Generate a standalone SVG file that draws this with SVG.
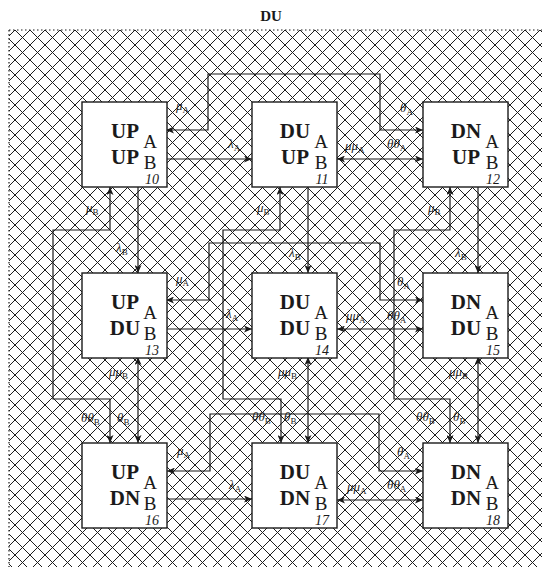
<svg xmlns="http://www.w3.org/2000/svg" width="542" height="567" viewBox="0 0 542 567">
<style>
.box{fill:#fff;stroke:#1a1a1a;stroke-width:1.4}
.st{font-family:"Liberation Serif",serif;font-weight:bold;font-size:21px;fill:#1a1a1a;text-anchor:middle}
.ab{font-family:"Liberation Serif",serif;font-size:19px;fill:#1a1a1a;text-anchor:middle}
.no{font-family:"Liberation Serif",serif;font-style:italic;font-size:14px;fill:#1a1a1a;text-anchor:middle}
.cn{fill:none;stroke:#1a1a1a;stroke-width:1.2}
.lb{font-family:"Liberation Serif",serif;font-style:italic;font-size:13px;fill:#1a1a1a}
.sb{font-size:9px;font-style:normal}
.ttl{font-family:"Liberation Serif",serif;font-weight:bold;font-size:15px;fill:#1a1a1a;text-anchor:middle}
</style>
<defs>
<pattern id="hatch" width="15" height="15" patternUnits="userSpaceOnUse">
<path d="M-1,-1 L16,16 M16,-1 L-1,16" stroke="#1e1e1e" stroke-width="1" fill="none"/>
</pattern>
<marker id="ar" viewBox="0 0 8 7" refX="8" refY="3.5" markerWidth="8" markerHeight="7" markerUnits="userSpaceOnUse" orient="auto-start-reverse">
<path d="M0,0 L8,3.5 L0,7 L2,3.5 z" fill="#1a1a1a"/>
</marker>
</defs>
<rect x="0" y="0" width="542" height="567" fill="#fff"/>
<text class="ttl" x="271" y="21">DU</text>
<rect x="9" y="30" width="533" height="537" fill="url(#hatch)"/>
<path d="M9,30 H542 M9,30 V567" stroke="#1a1a1a" stroke-width="1.2" stroke-dasharray="1.5,2.5" fill="none"/>

<g id="connectors">
<path class="cn" d="M166,159 H252" marker-end="url(#ar)"/>
<path class="cn" d="M337,159 H423" marker-start="url(#ar)" marker-end="url(#ar)"/>
<path class="cn" d="M423,130 H380 V74 H208 V130 H166" marker-start="url(#ar)" marker-end="url(#ar)"/>
<path class="cn" d="M166,329 H252" marker-end="url(#ar)"/>
<path class="cn" d="M337,329 H423" marker-start="url(#ar)" marker-end="url(#ar)"/>
<path class="cn" d="M423,300 H380 V243 H209 V300 H166" marker-start="url(#ar)" marker-end="url(#ar)"/>
<path class="cn" d="M167,499 H252" marker-end="url(#ar)"/>
<path class="cn" d="M337,500 H423" marker-start="url(#ar)" marker-end="url(#ar)"/>
<path class="cn" d="M423,471 H379 V414 H210 V471 H167" marker-start="url(#ar)" marker-end="url(#ar)"/>
<path class="cn" d="M138,187 V273" marker-end="url(#ar)"/>
<path class="cn" d="M138,357 V443" marker-start="url(#ar)" marker-end="url(#ar)"/>
<path class="cn" d="M110,187 V230 H53 V399 H110 V443" marker-start="url(#ar)" marker-end="url(#ar)"/>
<path class="cn" d="M308,187 V273" marker-end="url(#ar)"/>
<path class="cn" d="M308,357 V443" marker-start="url(#ar)" marker-end="url(#ar)"/>
<path class="cn" d="M280,187 V230 H223 V399 H281 V443" marker-start="url(#ar)" marker-end="url(#ar)"/>
<path class="cn" d="M478,187 V273" marker-end="url(#ar)"/>
<path class="cn" d="M478,357 V443" marker-start="url(#ar)" marker-end="url(#ar)"/>
<path class="cn" d="M450,187 V230 H394 V399 H450 V443" marker-start="url(#ar)" marker-end="url(#ar)"/>

<text class="lb" x="228" y="148">λ<tspan class="sb" dy="3">A</tspan></text>
<text class="lb" x="345" y="150">μμ<tspan class="sb" dy="3">A</tspan></text>
<text class="lb" x="387" y="148">θθ<tspan class="sb" dy="3">A</tspan></text>
<text class="lb" x="176" y="110">μ<tspan class="sb" dy="3">A</tspan></text>
<text class="lb" x="400" y="112">θ<tspan class="sb" dy="3">A</tspan></text>

<text class="lb" x="226" y="318">λ<tspan class="sb" dy="3">A</tspan></text>
<text class="lb" x="346" y="320">μμ<tspan class="sb" dy="3">A</tspan></text>
<text class="lb" x="387" y="320">θθ<tspan class="sb" dy="3">A</tspan></text>
<text class="lb" x="176" y="283">μ<tspan class="sb" dy="3">A</tspan></text>
<text class="lb" x="397" y="286">θ<tspan class="sb" dy="3">A</tspan></text>

<text class="lb" x="229" y="489">λ<tspan class="sb" dy="3">A</tspan></text>
<text class="lb" x="347" y="491">μμ<tspan class="sb" dy="3">A</tspan></text>
<text class="lb" x="387" y="489">θθ<tspan class="sb" dy="3">A</tspan></text>
<text class="lb" x="177" y="455">μ<tspan class="sb" dy="3">A</tspan></text>
<text class="lb" x="397" y="456">θ<tspan class="sb" dy="3">A</tspan></text>

<text class="lb" x="116" y="252">λ<tspan class="sb" dy="3">B</tspan></text>
<text class="lb" x="289" y="257">λ<tspan class="sb" dy="3">B</tspan></text>
<text class="lb" x="455" y="257">λ<tspan class="sb" dy="3">B</tspan></text>
<text class="lb" x="86" y="212">μ<tspan class="sb" dy="3">B</tspan></text>
<text class="lb" x="257" y="212">μ<tspan class="sb" dy="3">B</tspan></text>
<text class="lb" x="428" y="212">μ<tspan class="sb" dy="3">B</tspan></text>

<text class="lb" x="109" y="376">μμ<tspan class="sb" dy="3">B</tspan></text>
<text class="lb" x="278" y="376">μμ<tspan class="sb" dy="3">B</tspan></text>
<text class="lb" x="449" y="376">μμ<tspan class="sb" dy="3">B</tspan></text>

<text class="lb" x="81" y="422">θθ<tspan class="sb" dy="3">B</tspan></text>
<text class="lb" x="117" y="422">θ<tspan class="sb" dy="3">B</tspan></text>
<text class="lb" x="252" y="421">θθ<tspan class="sb" dy="3">B</tspan></text>
<text class="lb" x="284" y="421">θ<tspan class="sb" dy="3">B</tspan></text>
<text class="lb" x="416" y="421">θθ<tspan class="sb" dy="3">B</tspan></text>
<text class="lb" x="453" y="421">θ<tspan class="sb" dy="3">B</tspan></text>
</g>

<g id="n10"><rect class="box" x="82" y="102" width="85" height="85"/><text class="st" x="125" y="138">UP</text><text class="st" x="125" y="164">UP</text><text class="ab" x="150" y="148">A</text><text class="ab" x="150" y="169">B</text><text class="no" x="152" y="184">10</text></g>
<g id="n11"><rect class="box" x="252" y="102" width="85" height="85"/><text class="st" x="295" y="138">DU</text><text class="st" x="295" y="164">UP</text><text class="ab" x="321" y="148">A</text><text class="ab" x="321" y="169">B</text><text class="no" x="322" y="184">11</text></g>
<g id="n12"><rect class="box" x="423" y="102" width="85" height="85"/><text class="st" x="466" y="138">DN</text><text class="st" x="466" y="164">UP</text><text class="ab" x="492" y="148">A</text><text class="ab" x="492" y="169">B</text><text class="no" x="493" y="184">12</text></g>
<g id="n13"><rect class="box" x="82" y="273" width="85" height="85"/><text class="st" x="125" y="309">UP</text><text class="st" x="125" y="335">DU</text><text class="ab" x="150" y="319">A</text><text class="ab" x="150" y="340">B</text><text class="no" x="152" y="355">13</text></g>
<g id="n14"><rect class="box" x="252" y="273" width="85" height="85"/><text class="st" x="295" y="309">DU</text><text class="st" x="295" y="335">DU</text><text class="ab" x="321" y="319">A</text><text class="ab" x="321" y="340">B</text><text class="no" x="322" y="355">14</text></g>
<g id="n15"><rect class="box" x="423" y="273" width="85" height="85"/><text class="st" x="466" y="309">DN</text><text class="st" x="466" y="335">DU</text><text class="ab" x="492" y="319">A</text><text class="ab" x="492" y="340">B</text><text class="no" x="493" y="355">15</text></g>
<g id="n16"><rect class="box" x="82" y="443" width="85" height="85"/><text class="st" x="125" y="479">UP</text><text class="st" x="125" y="505">DN</text><text class="ab" x="150" y="489">A</text><text class="ab" x="150" y="510">B</text><text class="no" x="152" y="525">16</text></g>
<g id="n17"><rect class="box" x="252" y="443" width="85" height="85"/><text class="st" x="295" y="479">DU</text><text class="st" x="295" y="505">DN</text><text class="ab" x="321" y="489">A</text><text class="ab" x="321" y="510">B</text><text class="no" x="322" y="525">17</text></g>
<g id="n18"><rect class="box" x="423" y="443" width="85" height="85"/><text class="st" x="466" y="479">DN</text><text class="st" x="466" y="505">DN</text><text class="ab" x="492" y="489">A</text><text class="ab" x="492" y="510">B</text><text class="no" x="493" y="525">18</text></g>
</svg>
